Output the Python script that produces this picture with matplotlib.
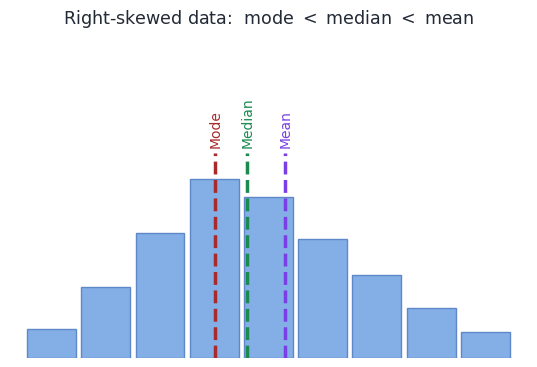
import matplotlib
matplotlib.use("Agg")
import matplotlib.pyplot as plt

# bar heights (relative counts)
bins = list(range(9))
counts = [29, 71, 125, 179, 161, 119, 83, 50, 26]

# positions of the three statistics, in bin units
stats = ["Mode", "Median", "Mean"]
stat_x = [3.02, 3.61, 4.31]
stat_colors = ["#a82a2a", "#1b8a50", "#7a3ee6"]

fig = plt.figure(figsize=(5.37, 3.67), dpi=100)
ax = fig.add_axes([0.0453, 0.0245, 0.909, 0.8665])

ax.bar(bins, counts, width=0.9, color="#84aee6", edgecolor="#5f88c9", linewidth=1)

line_top = 205
for name, x, c in zip(stats, stat_x, stat_colors):
    ax.vlines(x, 0, line_top, colors=c, linestyles="--", linewidth=2.5)
    ax.text(x, line_top + 5, name, rotation=90, ha="center", va="bottom",
            color=c, fontsize=10)

ax.set_xlim(-0.5, 8.5)
ax.set_ylim(0, 318)
ax.axis("off")

fig.suptitle(r"Right-skewed data:  mode $<$ median $<$ mean", y=0.978,
             fontsize=12.6, color="#222a35")

fig.savefig("out.png", dpi=100)
